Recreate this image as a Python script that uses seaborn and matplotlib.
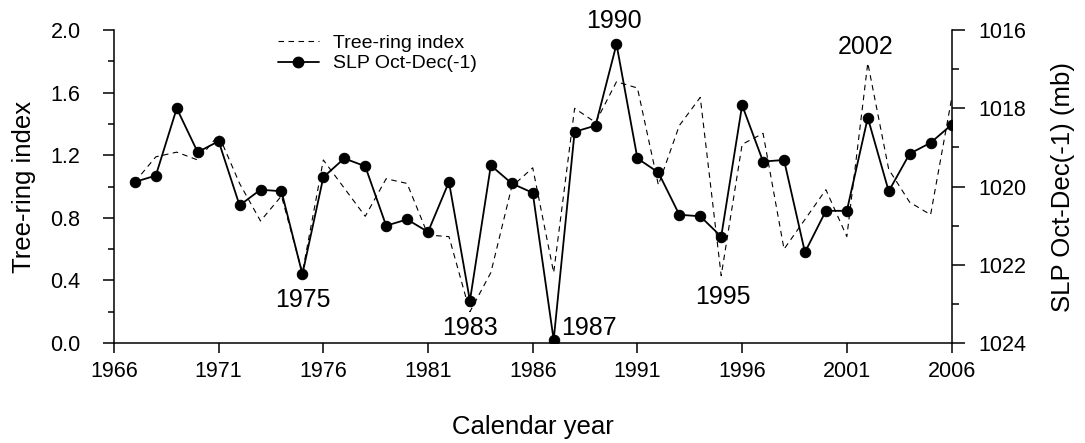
import numpy as np
import pandas as pd
import matplotlib
matplotlib.use("Agg")
import matplotlib.pyplot as plt
import seaborn as sns
from matplotlib.ticker import MultipleLocator
from matplotlib.lines import Line2D

years = list(range(1967, 2007))
tree_ring = [1.03, 1.19, 1.22, 1.17, 1.33, 1.02, 0.78, 0.94, 0.45, 1.17,
             0.99, 0.81, 1.05, 1.02, 0.69, 0.68, 0.20, 0.45, 1.00, 1.12,
             0.45, 1.50, 1.41, 1.67, 1.63, 1.01, 1.39, 1.57, 0.43, 1.27,
             1.34, 0.60, 0.79, 0.98, 0.68, 1.79, 1.11, 0.90, 0.82, 1.56]
slp_index = [1.03, 1.07, 1.50, 1.22, 1.29, 0.88, 0.98, 0.97, 0.44, 1.06,
             1.18, 1.13, 0.75, 0.79, 0.71, 1.03, 0.27, 1.135, 1.02, 0.96,
             0.02, 1.35, 1.39, 1.91, 1.18, 1.09, 0.82, 0.81, 0.68, 1.52,
             1.16, 1.17, 0.58, 0.845, 0.845, 1.44, 0.97, 1.21, 1.28, 1.395]
# SLP in mb (right axis: 1016 at top, 1024 at bottom)
slp_mb = [1024 - 4 * v for v in slp_index]

x_ticks = [1966, 1971, 1976, 1981, 1986, 1991, 1996, 2001, 2006]
left_ticks = [0.0, 0.4, 0.8, 1.2, 1.6, 2.0]
right_ticks = [1016, 1018, 1020, 1022, 1024]
annot_labels = ["1975", "1983", "1987", "1990", "1995", "2002"]
annot_x = [1975.0, 1983.0, 1988.7, 1989.9, 1995.1, 2001.9]
annot_y = [0.275, 0.096, 0.096, 2.06, 0.294, 1.89]

df = pd.DataFrame({"year": years, "tree": tree_ring, "slp": slp_mb})

sns.set_style("ticks")
plt.rcParams["font.family"] = ["Liberation Sans", "DejaVu Sans"]
plt.rcParams["text.color"] = "black"
plt.rcParams["axes.labelcolor"] = "black"
plt.rcParams["xtick.color"] = "black"
plt.rcParams["ytick.color"] = "black"

fig = plt.figure(figsize=(10.85, 4.43), dpi=100)
ax = fig.add_axes([0.105, 0.2257, 0.772, 0.7063])
ax2 = ax.twinx()

sns.lineplot(data=df, x="year", y="tree", ax=ax, color="black", lw=0.8,
             linestyle=(0, (5, 4)))
sns.lineplot(data=df, x="year", y="slp", ax=ax2, color="black", lw=1.3,
             marker="o", markersize=7.5, markeredgecolor="black",
             markerfacecolor="black")

ax.set_xlim(1966, 2006)
ax.set_ylim(0, 2.0)
ax2.set_ylim(1024, 1016)
ax.set_xticks(x_ticks)
ax.set_yticks(left_ticks)
ax.set_yticklabels([f"{t:.1f}" for t in left_ticks])
ax.yaxis.set_minor_locator(MultipleLocator(0.2))
ax2.set_yticks(right_ticks)
ax2.yaxis.set_minor_locator(MultipleLocator(1))

for a in (ax, ax2):
    for s in a.spines.values():
        s.set_color("black")
        s.set_linewidth(1.1)
    a.spines["top"].set_visible(False)
ax.spines["right"].set_visible(False)
ax2.spines["left"].set_visible(False)
ax2.spines["bottom"].set_visible(False)
ax2.spines["right"].set_visible(True)

ax.tick_params(axis="y", which="major", direction="out", length=8, width=1.1,
               labelsize=15.5, pad=16, colors="black")
ax.tick_params(axis="y", which="minor", direction="out", length=4, width=1.1,
               colors="black")
ax.tick_params(axis="x", which="major", direction="out", length=7, width=1.1,
               labelsize=15.5, pad=6, colors="black")
ax2.tick_params(axis="y", which="major", direction="out", length=9, width=1.1,
                labelsize=15.5, pad=10, colors="black")
ax2.tick_params(axis="y", which="minor", direction="out", length=5, width=1.1,
                colors="black")

ax.set_xlabel("Calendar year", fontsize=18.5, labelpad=24, color="black")
ax.set_ylabel("Tree-ring index", fontsize=18.5, labelpad=10, color="black")
ax2.set_ylabel("SLP Oct-Dec(-1) (mb)", fontsize=18.5, labelpad=18,
               color="black")

for lab, xx, yy in zip(annot_labels, annot_x, annot_y):
    ax.text(xx, yy, lab, ha="center", va="center", fontsize=18,
            color="black", clip_on=False)

handles = [Line2D([], [], color="black", lw=0.8, linestyle=(0, (5, 4))),
           Line2D([], [], color="black", lw=1.3, marker="o", markersize=7.5)]
fig.legend(handles, ["Tree-ring index", "SLP Oct-Dec(-1)"], loc="upper left",
           bbox_to_anchor=(0.249, 0.94), frameon=False, fontsize=14,
           handlelength=2.1, handletextpad=0.75, labelspacing=0.15,
           borderaxespad=0, labelcolor="black")

fig.savefig("out.png", dpi=100)
